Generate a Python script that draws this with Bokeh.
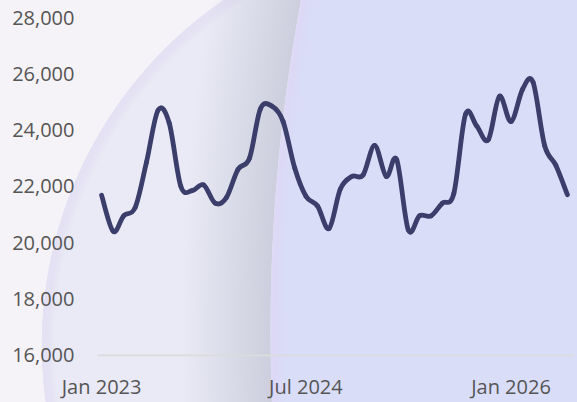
import pandas as pd
from bokeh.plotting import figure
from bokeh.models import FixedTicker, DatetimeTickFormatter, InlineStyleSheet, NumeralTickFormatter, Range1d
from bokeh.embed import file_html
from bokeh.resources import INLINE

# ---- data ----
months = pd.date_range("2023-01-01", periods=42, freq="MS")
values = [21680, 20400, 20950, 21250, 22850, 24700, 24250, 22000, 21850, 22050, 21400, 21600,
          22600, 23000, 24750, 24850, 24300, 22650, 21650, 21300, 20500, 21900, 22350, 22400,
          23450, 22350, 22950, 20450, 20950, 20950, 21400, 21750, 24550, 24150, 23650, 25200,
          24300, 25450, 25700, 23450, 22750, 21700]
y_ticks = [16000, 18000, 20000, 22000, 24000, 26000, 28000]
x_tick_dates = ["2023-01-01", "2024-07-01", "2026-01-01"]

def ms(d):
    return pd.Timestamp(d).value / 1e6

xs = [ms(d) for d in months]
ys = values

# smooth curve as cubic bezier segments (Catmull-Rom control points)
n = len(xs)
x0, y0, x1, y1, cx0, cy0, cx1, cy1 = [], [], [], [], [], [], [], []
for i in range(n - 1):
    p0 = (xs[max(i - 1, 0)], ys[max(i - 1, 0)])
    p1 = (xs[i], ys[i])
    p2 = (xs[i + 1], ys[i + 1])
    p3 = (xs[min(i + 2, n - 1)], ys[min(i + 2, n - 1)])
    x0.append(p1[0]); y0.append(p1[1]); x1.append(p2[0]); y1.append(p2[1])
    cx0.append(p1[0] + (p2[0] - p0[0]) / 6); cy0.append(p1[1] + (p2[1] - p0[1]) / 6)
    cx1.append(p2[0] - (p3[0] - p1[0]) / 6); cy1.append(p2[1] - (p3[1] - p1[1]) / 6)

p = figure(width=577, height=402, x_axis_type="datetime", output_backend="svg",
           toolbar_location=None,
           x_range=Range1d(ms("2022-12-21"), ms("2026-06-20")),
           y_range=Range1d(15950, 28000),
           min_border_left=97, min_border_right=3, min_border_top=17, min_border_bottom=43)
p.background_fill_color = None
p.border_fill_color = None
p.outline_line_color = None

css = """
:host {
  background:
    radial-gradient(circle at 2071px 330px, #d9ddf8 0px, #d9ddf8 1786px, #dcd8f6 1797px, #ddd9f6 1800px, rgba(0,0,0,0) 1800.6px),
    radial-gradient(circle at 2071px 330px, rgba(0,0,0,0) 1800px, rgba(140,144,168,0.30) 1801px, rgba(140,144,168,0) 1890px),
    radial-gradient(circle at 460px 345px, #e9eaf5 0px, #e9eaf5 405px, #e5e2f4 412px, #e5e1f4 418px, rgba(0,0,0,0) 418.6px),
    #f5f3f7;
}
"""
p.stylesheets = [InlineStyleSheet(css=css)]

p.bezier(x0=x0, y0=y0, x1=x1, y1=y1, cx0=cx0, cy0=cy0, cx1=cx1, cy1=cy1,
         line_color="#3b3e6b", line_width=4.8, line_cap="round")

p.yaxis.ticker = FixedTicker(ticks=y_ticks)
p.yaxis.formatter = NumeralTickFormatter(format="0,0")
p.xaxis.ticker = FixedTicker(ticks=[ms(d) for d in x_tick_dates])
p.xaxis.formatter = DatetimeTickFormatter(months="%b %Y", days="%b %Y", years="%b %Y")

for ax in (p.xaxis, p.yaxis):
    ax.axis_line_color = None
    ax.major_tick_line_color = None
    ax.minor_tick_line_color = None
    ax.major_tick_in = 0
    ax.major_tick_out = 0
    ax.minor_tick_out = 0
    ax.major_label_text_font = "Open Sans"
    ax.major_label_text_font_size = "20px"
    ax.major_label_text_color = "#555555"
p.yaxis.major_label_standoff = 23
p.xaxis.major_label_standoff = 16

p.xgrid.grid_line_color = None
p.ygrid.ticker = FixedTicker(ticks=[16000])
p.ygrid.grid_line_color = "#dcdcdc"
p.ygrid.grid_line_width = 2

open("out.html", "w").write(file_html(p, INLINE))
